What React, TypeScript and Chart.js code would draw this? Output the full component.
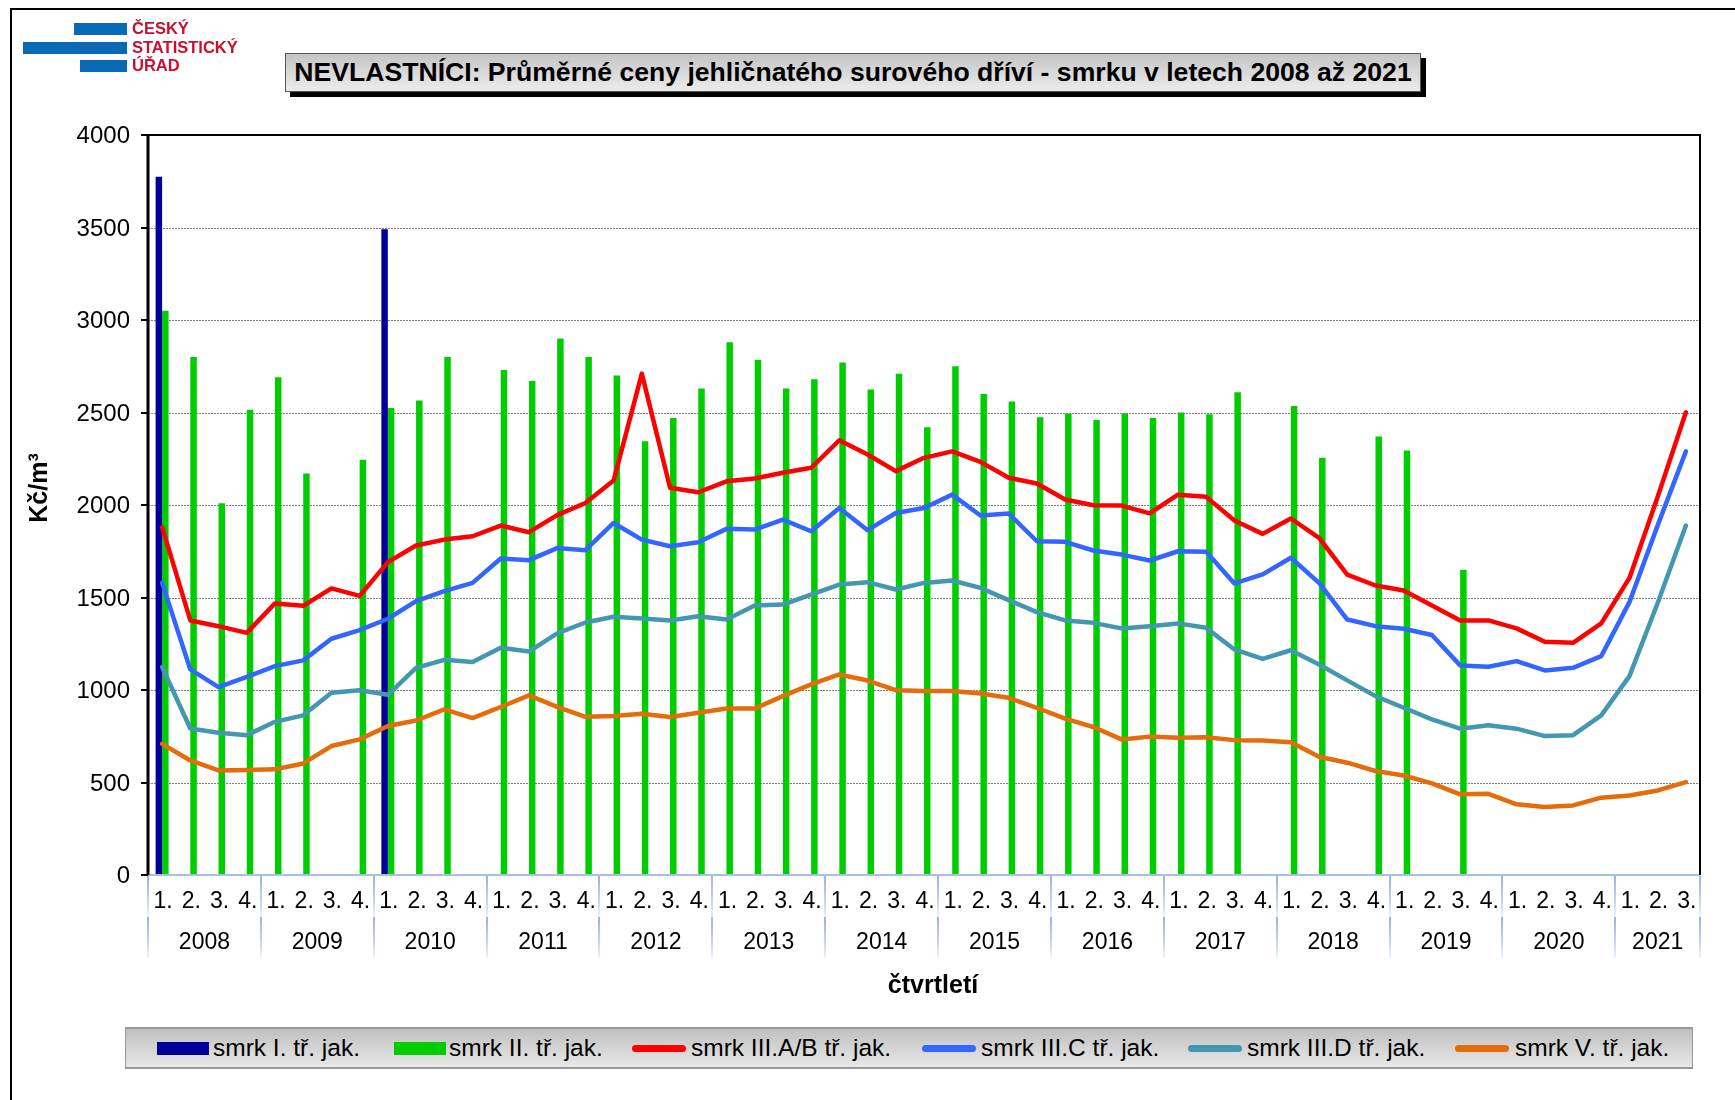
import React, { useEffect, useRef } from 'react';
import { Chart, registerables } from 'chart.js';

Chart.register(...registerables);

const FONT = '"Liberation Sans", Arial, Helvetica, sans-serif';

const TITLE = 'NEVLASTNÍCI: Průměrné ceny jehličnatého surového dříví - smrku v letech 2008 až 2021';
const Y_TITLE = 'Kč/m³';
const X_TITLE = 'čtvrtletí';

const YEARS = ['2008', '2009', '2010', '2011', '2012', '2013', '2014', '2015', '2016', '2017', '2018', '2019', '2020', '2021'];
const QUARTER_LABELS = ['1.', '2.', '3.', '4.'];
const QUARTERS_PER_YEAR = [4, 4, 4, 4, 4, 4, 4, 4, 4, 4, 4, 4, 4, 3];

const CATEGORIES: string[] = [];
YEARS.forEach((yr, k) => {
  for (let q = 0; q < QUARTERS_PER_YEAR[k]; q++) CATEGORIES.push(`${QUARTER_LABELS[q]} ${yr}`);
});

const Y_TICKS = [0, 500, 1000, 1500, 2000, 2500, 3000, 3500, 4000];

const SERIES_NAMES = [
  'smrk I. tř. jak.',
  'smrk II. tř. jak.',
  'smrk III.A/B tř. jak.',
  'smrk III.C tř. jak.',
  'smrk III.D tř. jak.',
  'smrk V. tř. jak.',
];
const SERIES_COLORS = ['#000099', '#00cc00', '#ff0000', '#3366ff', '#4398b0', '#e46c0a'];

const N = null;
const smrkI = [
  3775, N, N, N, N, N, N, N,
  3490, N, N, N, N, N, N, N,
  N, N, N, N, N, N, N, N,
  N, N, N, N, N, N, N, N,
  N, N, N, N, N, N, N, N,
  N, N, N, N, N, N, N, N,
  N, N, N, N, N, N, N,
];
const smrkII = [
  3050, 2800, 2010, 2515, 2690, 2170, N, 2245,
  2525, 2565, 2800, N, 2730, 2670, 2900, 2800,
  2700, 2345, 2470, 2630, 2880, 2785, 2630, 2680,
  2770, 2625, 2710, 2420, 2750, 2600, 2560, 2475,
  2495, 2460, 2495, 2470, 2500, 2490, 2610, N,
  2535, 2255, N, 2370, 2295, N, 1650, N,
  N, N, N, N, N, N, N,
];
const smrkIIIAB = [
  1880, 1376, 1345, 1309, 1468, 1455, 1549, 1509,
  1691, 1781, 1813, 1831, 1889, 1853, 1945, 2011,
  2132, 2710, 2093, 2069, 2128, 2143, 2174, 2201,
  2350, 2273, 2183, 2255, 2290, 2233, 2147, 2116,
  2030, 1999, 1997, 1955, 2056, 2044, 1916, 1844,
  1927, 1822, 1624, 1565, 1538, 1457, 1376, 1376,
  1333, 1261, 1255, 1360, 1606, 2045, 2501,
];
const smrkIIIC = [
  1579, 1111, 1016, 1071, 1129, 1160, 1277, 1324,
  1385, 1480, 1534, 1579, 1711, 1702, 1767, 1756,
  1903, 1813, 1777, 1799, 1871, 1867, 1921, 1858,
  1984, 1864, 1957, 1984, 2056, 1943, 1954, 1804,
  1801, 1754, 1732, 1700, 1750, 1747, 1576, 1625,
  1715, 1579, 1381, 1345, 1331, 1297, 1133, 1126,
  1156, 1106, 1120, 1183, 1475, 1890, 2290,
];
const smrkIIID = [
  1124, 792, 769, 756, 828, 863, 985, 999,
  974, 1120, 1163, 1151, 1228, 1208, 1306, 1365,
  1396, 1387, 1376, 1399, 1381, 1457, 1462, 1516,
  1570, 1583, 1543, 1579, 1592, 1552, 1486, 1421,
  1376, 1363, 1333, 1345, 1360, 1336, 1219, 1168,
  1215, 1138, 1052, 967, 904, 841, 791, 810,
  791, 751, 756, 863, 1075, 1470, 1889,
];
const smrkV = [
  709, 619, 565, 567, 571, 603, 697, 733,
  805, 835, 895, 848, 908, 971, 909, 855,
  859, 872, 854, 877, 900, 900, 967, 1030,
  1084, 1051, 999, 994, 994, 981, 958, 904,
  845, 800, 733, 748, 742, 745, 729, 727,
  718, 639, 607, 562, 538, 495, 436, 439,
  382, 367, 376, 418, 430, 457, 502,
];

const decorPlugin = {
  id: 'decor',
  beforeDatasetsDraw(chart: any) {
    const { ctx, chartArea: a, scales } = chart;
    const y = scales.y;
    ctx.save();
    ctx.strokeStyle = '#808080';
    ctx.lineWidth = 1;
    ctx.setLineDash([2, 1]);
    Y_TICKS.forEach((v) => {
      if (v === Y_TICKS[0] || v === Y_TICKS[Y_TICKS.length - 1]) return;
      const py = Math.round(y.getPixelForValue(v)) + 0.5;
      ctx.beginPath();
      ctx.moveTo(a.left, py);
      ctx.lineTo(a.right, py);
      ctx.stroke();
    });
    ctx.restore();
  },
  afterDatasetsDraw(chart: any) {
    const { ctx, chartArea: a, scales } = chart;
    const x = scales.x;
    const y = scales.y;
    ctx.save();
    ctx.setLineDash([]);

    // bottom axis line (light blue)
    ctx.strokeStyle = '#a8bfe8';
    ctx.lineWidth = 2;
    ctx.beginPath();
    ctx.moveTo(a.left, a.bottom);
    ctx.lineTo(a.right, a.bottom);
    ctx.stroke();

    // frame: top, right, left
    ctx.strokeStyle = '#000';
    ctx.lineWidth = 2;
    ctx.beginPath();
    ctx.moveTo(a.left, a.top);
    ctx.lineTo(a.right, a.top);
    ctx.lineTo(a.right, a.bottom);
    ctx.stroke();
    ctx.lineWidth = 3;
    ctx.beginPath();
    ctx.moveTo(a.left, a.top - 1);
    ctx.lineTo(a.left, a.bottom);
    ctx.stroke();

    // y ticks and labels
    ctx.lineWidth = 2;
    ctx.fillStyle = '#000';
    ctx.font = `24px ${FONT}`;
    ctx.textAlign = 'right';
    ctx.textBaseline = 'middle';
    Y_TICKS.forEach((v) => {
      const py = Math.round(y.getPixelForValue(v));
      ctx.beginPath();
      ctx.moveTo(a.left - 7, py);
      ctx.lineTo(a.left, py);
      ctx.stroke();
      ctx.fillText(String(v), a.left - 18, py + 1);
    });

    // x separators
    const row1Top = a.bottom + 1;
    const row1Bot = a.bottom + 42;
    const row2Bot = a.bottom + 83;
    const seps: number[] = [a.left];
    let idx = 0;
    QUARTERS_PER_YEAR.forEach((n, k) => {
      idx += n;
      if (k < QUARTERS_PER_YEAR.length - 1) {
        seps.push((x.getPixelForValue(idx - 1) + x.getPixelForValue(idx)) / 2);
      }
    });
    seps.push(a.right);
    const drawSeg = (sx: number, y0: number, y1: number) => {
      const g = ctx.createLinearGradient(0, y0, 0, y1);
      g.addColorStop(0, '#9cb4e2');
      g.addColorStop(0.6, '#c4d3ef');
      g.addColorStop(1, '#eef2fa');
      ctx.strokeStyle = g;
      ctx.lineWidth = 2;
      ctx.beginPath();
      ctx.moveTo(sx, y0);
      ctx.lineTo(sx, y1);
      ctx.stroke();
    };
    seps.forEach((sx) => {
      const px = Math.round(sx);
      drawSeg(px, row1Top, row1Bot);
      drawSeg(px, row1Bot, row2Bot);
    });

    // quarter labels
    ctx.fillStyle = '#000';
    ctx.font = `23px ${FONT}`;
    ctx.textAlign = 'center';
    ctx.textBaseline = 'middle';
    let c = 0;
    QUARTERS_PER_YEAR.forEach((n, k) => {
      for (let q = 0; q < n; q++) {
        ctx.fillText(QUARTER_LABELS[q], x.getPixelForValue(c + q) + 1, a.bottom + 27);
      }
      const cx = (x.getPixelForValue(c) + x.getPixelForValue(c + n - 1)) / 2;
      ctx.fillText(YEARS[k], cx, a.bottom + 68);
      c += n;
    });

    // axis titles
    ctx.font = `bold 25px ${FONT}`;
    ctx.fillText(X_TITLE, (a.left + a.right) / 2 + 9, a.bottom + 111);
    ctx.save();
    ctx.translate(40, 488);
    ctx.rotate(-Math.PI / 2);
    ctx.fillText(Y_TITLE, 0, 0);
    ctx.restore();

    ctx.restore();
  },
};

function LegendItem({ i, swatchLeft, textLeft }: { i: number; swatchLeft: number; textLeft: number }) {
  const isBar = i < 2;
  return (
    <>
      <div
        style={{
          position: 'absolute',
          left: swatchLeft,
          top: isBar ? 1042 : 1045,
          width: isBar ? 52 : 54,
          height: isBar ? 13 : 7,
          background: SERIES_COLORS[i],
          borderRadius: isBar ? 0 : 4,
        }}
      />
      <div
        style={{
          position: 'absolute',
          left: textLeft,
          top: 1033,
          fontFamily: FONT,
          fontSize: 24.5,
          lineHeight: '30px',
          color: '#000',
          whiteSpace: 'nowrap',
        }}
      >
        {SERIES_NAMES[i]}
      </div>
    </>
  );
}

export default function App() {
  const canvasRef = useRef<HTMLCanvasElement | null>(null);

  useEffect(() => {
    const canvas = canvasRef.current;
    if (!canvas) return;
    const barCommon = { categoryPercentage: 0.46, barPercentage: 1.0, borderWidth: 0 };
    const lineCommon = {
      type: 'line' as const,
      borderWidth: 4.5,
      pointRadius: 0,
      tension: 0,
      borderJoinStyle: 'round' as const,
      borderCapStyle: 'round' as const,
      spanGaps: true,
      fill: false,
    };
    const chart = new Chart(canvas, {
      type: 'bar',
      data: {
        labels: CATEGORIES,
        datasets: [
          { ...barCommon, label: SERIES_NAMES[0], data: smrkI, backgroundColor: SERIES_COLORS[0], order: 10 },
          { ...barCommon, label: SERIES_NAMES[1], data: smrkII, backgroundColor: SERIES_COLORS[1], order: 11 },
          { ...lineCommon, label: SERIES_NAMES[2], data: smrkIIIAB, borderColor: SERIES_COLORS[2], backgroundColor: SERIES_COLORS[2], order: 1 },
          { ...lineCommon, label: SERIES_NAMES[3], data: smrkIIIC, borderColor: SERIES_COLORS[3], backgroundColor: SERIES_COLORS[3], order: 2 },
          { ...lineCommon, label: SERIES_NAMES[4], data: smrkIIID, borderColor: SERIES_COLORS[4], backgroundColor: SERIES_COLORS[4], order: 3 },
          { ...lineCommon, label: SERIES_NAMES[5], data: smrkV, borderColor: SERIES_COLORS[5], backgroundColor: SERIES_COLORS[5], order: 4 },
        ] as any,
      },
      options: {
        animation: false,
        responsive: false,
        maintainAspectRatio: false,
        devicePixelRatio: 1,
        layout: { padding: { top: 135, right: 35, left: 0, bottom: 0 } },
        plugins: {
          legend: { display: false },
          title: { display: false },
          tooltip: { enabled: false },
        },
        scales: {
          x: {
            type: 'category',
            offset: true,
            grid: { display: false },
            border: { display: false },
            ticks: { display: false },
            afterFit: (s: any) => {
              s.height = 225;
            },
          },
          y: {
            type: 'linear',
            min: 0,
            max: 4000,
            grid: { display: false },
            border: { display: false },
            ticks: { display: false, stepSize: 500 },
            afterFit: (s: any) => {
              s.width = 148;
            },
          },
        },
      } as any,
      plugins: [decorPlugin],
    });
    return () => chart.destroy();
  }, []);

  const legendSwatch = [157, 394, 632, 922, 1188, 1455];
  const legendText = [213, 449, 691, 981, 1247, 1515];

  return (
    <div style={{ position: 'absolute', left: 0, top: 0, width: 1735, height: 1100, overflow: 'hidden', background: '#fff' }}>
      {/* outer frame */}
      <div style={{ position: 'absolute', left: 10, top: 8, width: 1800, height: 1200, borderLeft: '2px solid #000', borderTop: '2px solid #000' }} />

      <canvas ref={canvasRef} width={1735} height={1100} style={{ position: 'absolute', left: 0, top: 0, width: 1735, height: 1100 }} />

      {/* logo */}
      <div style={{ position: 'absolute', left: 74, top: 23, width: 53, height: 12, background: '#0a69b4' }} />
      <div style={{ position: 'absolute', left: 23, top: 42, width: 104, height: 12, background: '#0a69b4' }} />
      <div style={{ position: 'absolute', left: 80, top: 60, width: 47, height: 12, background: '#0a69b4' }} />
      {['ČESKÝ', 'STATISTICKÝ', 'ÚŘAD'].map((t, i) => (
        <div
          key={t}
          style={{
            position: 'absolute',
            left: 132,
            top: 18 + i * 18.7,
            fontFamily: FONT,
            fontWeight: 'bold',
            fontSize: 16.5,
            lineHeight: '20px',
            color: '#c8102e',
            whiteSpace: 'nowrap',
          }}
        >
          {t}
        </div>
      ))}

      {/* title box */}
      <div style={{ position: 'absolute', left: 290, top: 58, width: 1136, height: 39, background: '#000' }} />
      <div
        style={{
          position: 'absolute',
          left: 285,
          top: 53,
          width: 1134,
          height: 37,
          border: '1px solid #555',
          background: 'linear-gradient(#c4c4c4, #ececec)',
          display: 'flex',
          alignItems: 'center',
          justifyContent: 'center',
          fontFamily: FONT,
          fontWeight: 'bold',
          fontSize: 26.6,
          color: '#000',
          whiteSpace: 'nowrap',
        }}
      >
        {TITLE}
      </div>

      {/* legend */}
      <div
        style={{
          position: 'absolute',
          left: 125,
          top: 1027,
          width: 1566,
          height: 38,
          borderTop: '2px solid #999',
          borderBottom: '2px solid #999',
          borderLeft: '1px solid #999',
          borderRight: '1px solid #999',
          background: 'linear-gradient(#c0c0c0, #e8e8e8)',
        }}
      />
      {SERIES_NAMES.map((_, i) => (
        <LegendItem key={i} i={i} swatchLeft={legendSwatch[i]} textLeft={legendText[i]} />
      ))}
    </div>
  );
}
